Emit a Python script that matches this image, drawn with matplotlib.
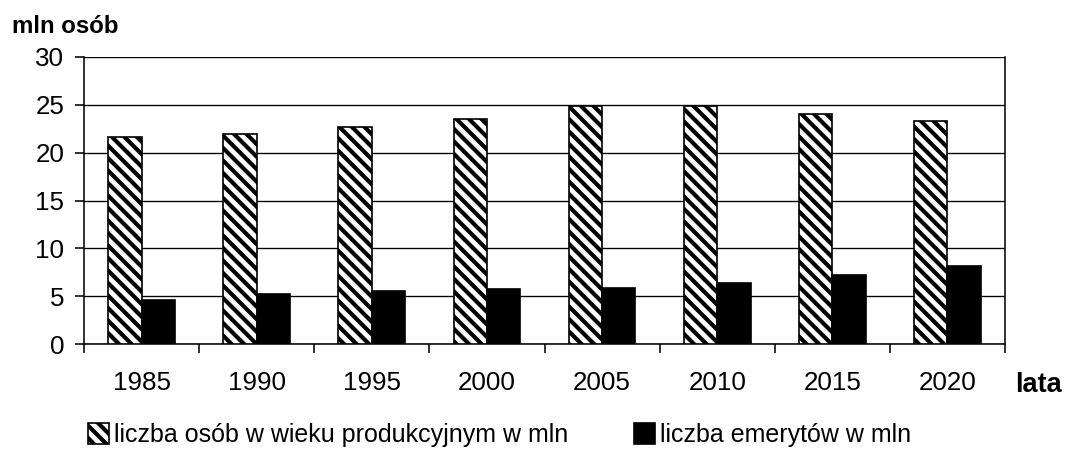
import matplotlib
matplotlib.use("Agg")
import matplotlib.pyplot as plt
import numpy as np
from matplotlib.ticker import FixedLocator, NullFormatter

years = ["1985", "1990", "1995", "2000", "2005", "2010", "2015", "2020"]
working_age = [21.6, 21.9, 22.7, 23.5, 24.9, 24.9, 24.0, 23.3]
pensioners = [4.6, 5.2, 5.5, 5.7, 5.9, 6.4, 7.2, 8.2]
yticks = [0, 5, 10, 15, 20, 25, 30]
label_working = "liczba osób w wieku produkcyjnym w mln"
label_pens = "liczba emerytów w mln"

plt.rcParams['font.family'] = ['Liberation Sans Narrow', 'Liberation Sans', 'DejaVu Sans']
plt.rcParams['hatch.linewidth'] = 2.0
plt.rcParams['hatch.color'] = 'black'

DPI = 150
fig = plt.figure(figsize=(1065 / DPI, 455 / DPI), dpi=DPI)
ax = fig.add_axes([84 / 1065, 1 - 344 / 455, (1005 - 84) / 1065, (344 - 57) / 455])

x = np.arange(len(years))
w = 0.29
ax.bar(x - w / 2, working_age, width=w, facecolor='white', edgecolor='black',
       linewidth=0.8, hatch='\\\\\\\\', label=label_working, zorder=3)
ax.bar(x + w / 2, pensioners, width=w, facecolor='black', edgecolor='black',
       linewidth=0.8, label=label_pens, zorder=3)

ax.set_xlim(-0.5, len(years) - 0.5)
ax.set_ylim(0, 30)
ax.set_yticks(yticks)
ax.set_yticklabels([str(v) for v in yticks])
ax.yaxis.grid(True, color='black', linewidth=0.65)
ax.set_axisbelow(True)

ax.set_xticks(x)
ax.set_xticklabels(years)
ax.xaxis.set_minor_locator(FixedLocator(np.arange(-0.5, len(years), 1.0)))
ax.xaxis.set_minor_formatter(NullFormatter())
ax.tick_params(axis='x', which='major', length=0, pad=13, labelsize=12.5)
ax.tick_params(axis='x', which='minor', length=4.5, width=0.75, direction='out')
ax.tick_params(axis='y', length=4.5, width=0.75, direction='out', pad=5, labelsize=12.5)

for s in ['left', 'right', 'bottom']:
    ax.spines[s].set_linewidth(0.75)
ax.spines['top'].set_visible(False)

fig.text(12 / 1065, 1 - 33 / 455, "mln osób", fontsize=11.5, fontweight='bold',
         ha='left', va='baseline', family=['Liberation Sans', 'DejaVu Sans'])
fig.text(1015 / 1065, 1 - 392 / 455, "lata", fontsize=13, fontweight='bold',
         ha='left', va='baseline', family=['Liberation Sans', 'DejaVu Sans'])

handles, labels = ax.get_legend_handles_labels()
fig.legend(handles, labels, loc='lower left', bbox_to_anchor=(78 / 1065, -0.005),
           ncol=2, frameon=False, fontsize=12, handlelength=0.85, handleheight=0.95,
           handletextpad=0.2, columnspacing=2.6, borderpad=0.2, borderaxespad=0.2)

fig.savefig("out.png", dpi=DPI)
